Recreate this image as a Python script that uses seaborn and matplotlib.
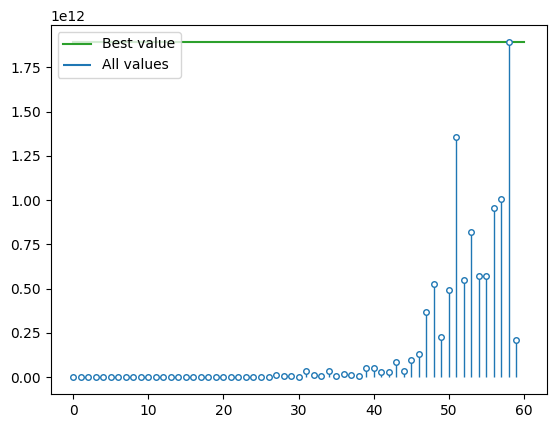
#!/usr/bin/env python3

import numpy as np
import pandas as pd
import seaborn as sns
import matplotlib
matplotlib.use("Agg")
import matplotlib.pyplot as plt

# values in units of 1e12
vals = [0.0001, 0.0002, 0.0001, 0.0003, 0.0002, 0.0004, 0.0003, 0.0005, 0.0004, 0.0006,
        0.0005, 0.0007, 0.0006, 0.0008, 0.0007, 0.0009, 0.0010, 0.0008, 0.0011, 0.0012,
        0.0010, 0.0013, 0.0015, 0.0014, 0.0017, 0.0020, 0.0030, 0.013, 0.006, 0.006,
        0.001, 0.035, 0.011, 0.006, 0.034, 0.006, 0.017, 0.011, 0.006, 0.051,
        0.051, 0.030, 0.030, 0.085, 0.036, 0.100, 0.130, 0.367, 0.525, 0.226,
        0.490, 1.356, 0.548, 0.819, 0.571, 0.571, 0.955, 1.006, 1.895, 0.209]
best = 1.895

df = pd.DataFrame({"iter": np.arange(len(vals)), "value": np.array(vals) * 1e12})
best_df = pd.DataFrame({"iter": [0, 60], "value": [best * 1e12, best * 1e12]})

fig = plt.figure(figsize=(5.56, 4.28), dpi=100)
ax = fig.add_axes([0.091, 0.0794, 0.892, 0.8622])

sns.lineplot(x="iter", y="value", data=best_df, color="C2", label="Best value", ax=ax)
ax.vlines(df["iter"], 0, df["value"], color="C0", linewidth=1, label="All values")
sns.scatterplot(x="iter", y="value", data=df, marker="o", s=16, facecolor="white",
                edgecolor="C0", linewidth=1, zorder=3, legend=False, ax=ax)

ax.set_xlabel("")
ax.set_ylabel("")
leg = ax.legend(loc="upper left")
for h in leg.legend_handles:
    h.set_linewidth(1.5)
plt.savefig("out.png")
